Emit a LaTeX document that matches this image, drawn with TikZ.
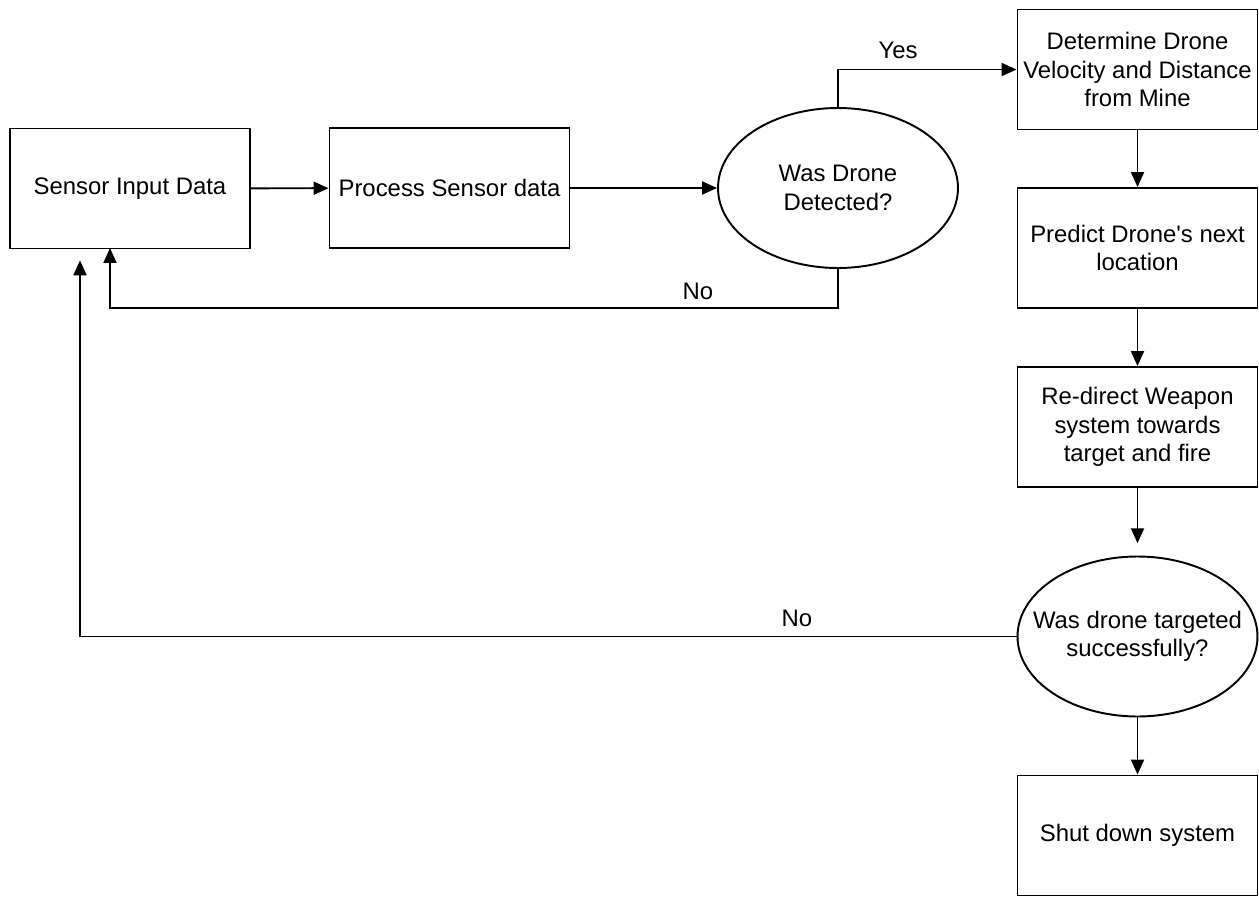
\documentclass[tikz,border=0pt]{standalone}
\usepackage{fontspec}
\setmainfont{Liberation Sans}
\newfontfamily\plainsans{Liberation Sans}
\usetikzlibrary{arrows.meta,shapes.geometric}
\begin{document}
\begin{tikzpicture}[x=0.02cm,y=-0.02cm,
  every node/.style={font=\fontsize{13.6}{16.2}\selectfont, align=center, inner sep=2pt},
  box/.style={draw, line width=1.1pt, minimum width=4.8cm, minimum height=2.4cm},
  dec/.style={draw, ellipse, line width=1.1pt, minimum width=4.8cm, minimum height=3.2cm, inner xsep=-1.5cm, inner ysep=0pt},
  conn/.style={draw, line width=1.1pt, -{Triangle[length=0.3cm,width=0.26cm]}},
  lbl/.style={inner sep=0pt}]
\useasboundingbox (0,0) rectangle (1259,899);
\node[box] (sensor) at (130,188.5) {Sensor Input Data};
\node[box] (proc) at (449.5,188) {Process Sensor data};
\node[dec] (det) at (838,188) {Was Drone\\Detected?};
\node[box] (vel) at (1137.5,69.5) {Determine Drone\\Velocity and Distance\\from Mine};
\node[box] (pred) at (1137.5,248) {Predict Drone{\plainsans '}s next\\location};
\node[box] (redir) at (1137.5,427) {Re-direct Weapon\\system towards\\target and fire};
\node[dec] (tgt) at (1137.5,636.5) {Was drone targeted\\successfully?};
\node[box] (shut) at (1137.5,835.5) {Shut down system};
\coordinate (in1) at (110,248);
\coordinate (in2) at (80,248);
\draw[conn] (sensor) -- (proc);
\draw[conn] (proc) -- (det);
\draw[conn] (det.north) |- (vel.west);
\draw[conn] (det.south) -- (838,308) -| (in1);
\draw[conn] (vel) -- (pred);
\draw[conn] (pred) -- (redir);
\draw[conn, shorten >=7pt] (redir) -- (tgt);
\draw[conn, shorten >=7pt] (tgt.west) -| (in2);
\draw[conn] (tgt) -- (shut);
\node[lbl] (yes) at (898,50) {Yes};
\node[lbl] (no1) at (698,291) {No};
\node[lbl] (no2) at (797,618) {No};
\end{tikzpicture}
\end{document}
